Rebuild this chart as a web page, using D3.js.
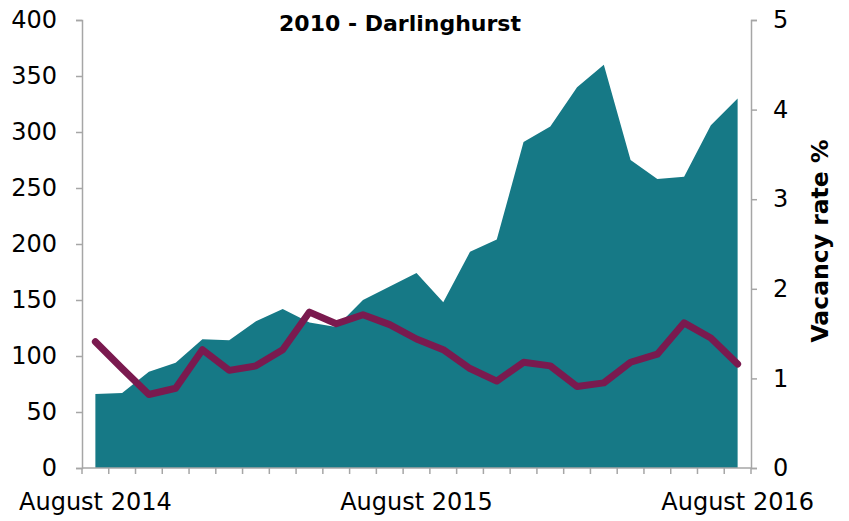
<!DOCTYPE html>
<html>
<head>
<meta charset="utf-8">
<script src="https://cdn.jsdelivr.net/npm/d3@7"></script>
<style>
  body { margin: 0; background: #fff; }
  text { font-family: "DejaVu Sans", sans-serif; fill: #000; }
</style>
</head>
<body>
<div id="chart"></div>
<script>
// monthly, Aug 2014 .. Aug 2016
const months = ["Aug 2014","Sep 2014","Oct 2014","Nov 2014","Dec 2014","Jan 2015","Feb 2015","Mar 2015",
  "Apr 2015","May 2015","Jun 2015","Jul 2015","Aug 2015","Sep 2015","Oct 2015","Nov 2015","Dec 2015",
  "Jan 2016","Feb 2016","Mar 2016","Apr 2016","May 2016","Jun 2016","Jul 2016","Aug 2016"];
const listings = [66, 67, 86, 94, 115, 114, 131, 142, 130, 126, 150, 162, 174, 148, 193, 204, 291, 305,
  340, 360, 275, 258, 260, 306, 330];
const vacancy = [1.41, 1.11, 0.82, 0.89, 1.32, 1.09, 1.14, 1.32, 1.74, 1.61, 1.71, 1.60, 1.44, 1.32,
  1.11, 0.97, 1.18, 1.14, 0.91, 0.95, 1.18, 1.27, 1.62, 1.45, 1.16];
const xLabels = {"Aug 2014": "August 2014", "Aug 2015": "August 2015", "Aug 2016": "August 2016"};
const leftTicks = [0, 50, 100, 150, 200, 250, 300, 350, 400];
const rightTicks = [0, 1, 2, 3, 4, 5];

const svg = d3.select("#chart").append("svg")
    .attr("width", 849)
    .attr("height", 521);

const margin = {top: 20, right: 98, bottom: 53, left: 82};
const width = 849 - margin.left - margin.right;
const height = 521 - margin.top - margin.bottom;

const g = svg.append("g").attr("transform", `translate(${margin.left},${margin.top})`);

const x = d3.scaleBand().domain(months).range([0, width]);
const y = d3.scaleLinear().domain([0, 400]).range([height, 0]);
const y2 = d3.scaleLinear().domain([0, 5]).range([height, 0]);
const cx = d => x(d) + x.bandwidth() / 2;

const area = d3.area()
    .x((d, i) => cx(months[i]))
    .y0(height)
    .y1(d => y(d));

g.append("path")
    .datum(listings)
    .attr("fill", "#167986")
    .attr("d", area);

const line = d3.line()
    .x((d, i) => cx(months[i]))
    .y(d => y2(d));

g.append("path")
    .datum(vacancy)
    .attr("fill", "none")
    .attr("stroke", "#7a1a4f")
    .attr("stroke-width", 7)
    .attr("stroke-linejoin", "round")
    .attr("stroke-linecap", "round")
    .attr("d", line);

function styleAxis(sel) {
    sel.selectAll(".domain, .tick line").attr("stroke", "#a6a6a6").attr("stroke-width", 1.5);
    sel.selectAll("text").attr("font-size", 24).attr("fill", "#000");
}

// left axis
g.append("g")
    .call(d3.axisLeft(y).tickValues(leftTicks).tickSize(6).tickSizeOuter(6).tickPadding(19))
    .call(styleAxis);

// right axis
g.append("g")
    .attr("transform", `translate(${width},0)`)
    .call(d3.axisRight(y2).tickValues(rightTicks).tickFormat(d3.format("d"))
        .tickSize(6).tickSizeOuter(6).tickPadding(16))
    .call(styleAxis);

// bottom axis: ticks at month boundaries
const xAxis = g.append("g").attr("transform", `translate(0,${height})`);
xAxis.append("line")
    .attr("x1", 0).attr("x2", width)
    .attr("stroke", "#a6a6a6").attr("stroke-width", 1.5);
xAxis.selectAll(".bt")
    .data(months.concat(["end"]))
    .enter().append("line")
    .attr("x1", (d, i) => i * x.step())
    .attr("x2", (d, i) => i * x.step())
    .attr("y1", 0).attr("y2", 6)
    .attr("stroke", "#a6a6a6").attr("stroke-width", 1.5);
xAxis.selectAll(".xl")
    .data(months.filter(m => xLabels[m]))
    .enter().append("text")
    .attr("x", d => cx(d))
    .attr("y", 42)
    .attr("text-anchor", "middle")
    .attr("font-size", 24)
    .text(d => xLabels[d]);

// title
svg.append("text")
    .attr("x", 400)
    .attr("y", 31)
    .attr("text-anchor", "middle")
    .attr("font-size", 22)
    .attr("font-weight", "bold")
    .text("2010 - Darlinghurst");

// right axis label
svg.append("text")
    .attr("transform", "translate(828,241) rotate(-90)")
    .attr("text-anchor", "middle")
    .attr("font-size", 23.5)
    .attr("font-weight", "bold")
    .text("Vacancy rate %");
</script>
</body>
</html>
